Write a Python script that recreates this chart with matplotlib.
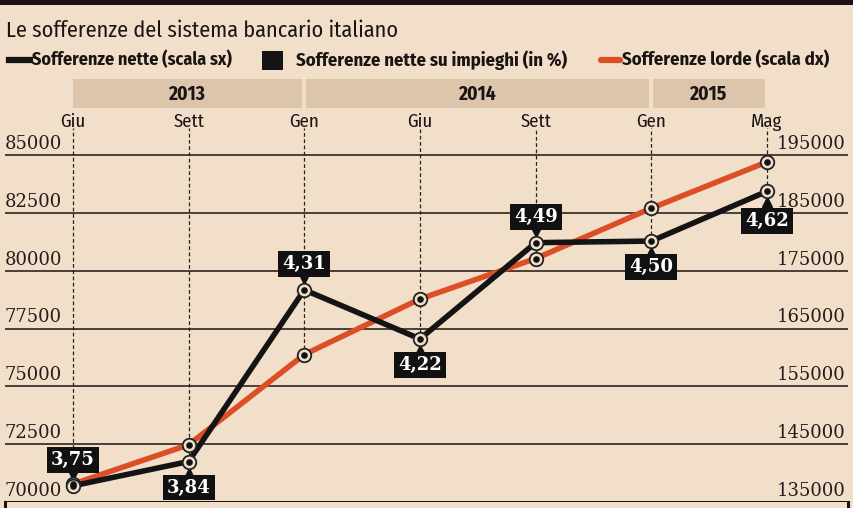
import matplotlib
matplotlib.use("Agg")
import matplotlib.pyplot as plt
from matplotlib.patches import Rectangle
from matplotlib.transforms import offset_copy

# data
months = ["Giu", "Sett", "Gen", "Giu", "Sett", "Gen", "Mag"]
years = ["2013", "2014", "2015"]
year_spans = [(0, 2), (2, 5), (5, 6)]  # month index ranges covered by each year band
nette = [70700, 71750, 79170, 77050, 81210, 81280, 83430]          # scala sx
lorde = [138100, 144900, 160500, 170100, 177100, 185800, 193800]   # scala dx
pct = ["3,75", "3,84", "4,31", "4,22", "4,49", "4,50", "4,62"]
pct_above = [True, False, True, False, True, False, False]
left_ticks = [70000, 72500, 75000, 77500, 80000, 82500, 85000]
right_ticks = [135000, 145000, 155000, 165000, 175000, 185000, 195000]

BG = "#f2dfca"
BAND = "#dcc5aa"
ORANGE = "#dc4f26"
GRID = "#3b3331"
COND = ["Fira Sans Condensed", "Barlow Condensed", "DejaVu Sans"]
SERIF = ["DejaVu Serif"]

W, H = 854, 508
fig = plt.figure(figsize=(W / 100, H / 100), dpi=100, facecolor=BG)


def fx(px):
    return px / W


def fy(py):
    return 1 - py / H


# axes: x index 0..6 at px 73..767, left scale 70000..85000 at px 502..155
ax = fig.add_axes([fx(5), fy(502), fx(843), 374 / H])
ax.set_facecolor("none")
step_x = (767 - 73) / 6
step_y = (502 - 155) / 6
ax.set_xlim(-(73 - 5) / step_x, 6 + (848 - 767) / step_x)
ax.set_ylim(70000, 70000 + 2500 * 374 / step_y)
for s in ax.spines.values():
    s.set_visible(False)
ax.set_xticks([])
ax.set_yticks([])


def to_left(v):
    return (v - 135000) / 4 + 70000


xs = list(range(len(months)))
lorde_l = [to_left(v) for v in lorde]

# gridlines
for t in left_ticks[1:]:
    ax.axhline(t, color=GRID, lw=1.3, zorder=1)
ax.axhline(70000, color="#1a1414", lw=2.2, zorder=1)
ax.plot([ax.get_xlim()[0]] * 2, [70000, 69000], color="#1a1414", lw=2.2, clip_on=False)
ax.plot([ax.get_xlim()[1]] * 2, [70000, 69000], color="#1a1414", lw=2.2, clip_on=False)

# dashed month guides
ytop = ax.get_ylim()[1]
for i in xs:
    ax.plot([i, i], [min(nette[i], lorde_l[i]), ytop], color="#222", lw=0.9,
            ls=(0, (3, 2)), zorder=2)

# lines
ax.plot(xs, lorde_l, color=ORANGE, lw=4, zorder=3, solid_capstyle="round")
ax.plot(xs, nette, color="#141414", lw=4, zorder=4, solid_capstyle="round")

# bullseye markers
for ys in (lorde_l, nette):
    ax.scatter(xs, ys, s=95, facecolor=BG, edgecolor="#222", linewidth=1.3, zorder=6)
    ax.scatter(xs, ys, s=14, color="#111", zorder=7)

# value boxes
for i in xs:
    up = pct_above[i]
    off = 26 if i < 6 else 30
    ax.annotate(pct[i], (i, nette[i]), xytext=(0, (off if up else -off) * 0.72),
                textcoords="offset points", ha="center", va="center",
                color="white", fontsize=13, family=SERIF, fontweight="bold",
                bbox=dict(boxstyle="square,pad=0.22", fc="#111", ec="none"), zorder=8)
    tr = offset_copy(ax.transData, fig=fig, x=0, y=(11 if up else -11), units="dots")
    ax.plot(i, nette[i], marker="v" if up else "^", ms=7, color="#111",
            transform=tr, zorder=5)

# axis labels, sitting above their gridlines
for lt, rt in zip(left_ticks, right_ticks):
    y_px = 502 - (lt - 70000) / 2500 * step_y
    fig.text(fx(62), fy(y_px - 11), str(lt), ha="right", va="center",
             fontsize=13, family=SERIF, color="#231c1c")
    fig.text(fx(846), fy(y_px - 11), str(rt), ha="right", va="center",
             fontsize=13, family=SERIF, color="#231c1c")

# month labels and year bands
for i, m in enumerate(months):
    fig.text(fx(73 + i * step_x), fy(122), m, ha="center", va="center",
             fontsize=13.5, family=COND, color="#1a1414")
for yr, (a, b) in zip(years, year_spans):
    x0 = 73 + a * step_x + (2 if a > 0 else 0)
    x1 = 73 + b * step_x - 2
    fig.patches.append(Rectangle((fx(x0), fy(108)), fx(x1 - x0), 29 / H,
                                 transform=fig.transFigure, fc=BAND, ec="none"))
    fig.text(fx((x0 + x1) / 2), fy(94), yr, ha="center", va="center",
             fontsize=14, family=COND, fontweight="bold", color="#1a1414")

# top bar, title, legend
fig.patches.append(Rectangle((0, fy(5)), 1, 5 / H, transform=fig.transFigure,
                             fc="#1a1414", ec="none"))
fig.text(fx(6), fy(31), "Le sofferenze del sistema bancario italiano", ha="left",
         va="center", fontsize=16, family=COND, color="#1a1414")
fig.lines.append(plt.Line2D([fx(9), fx(30)], [fy(60)] * 2, transform=fig.transFigure,
                            color="#141414", lw=4.5))
fig.text(fx(32), fy(60), "Sofferenze nette (scala sx)", ha="left", va="center",
         fontsize=13, family=COND, fontweight="bold", color="#1a1414")
fig.patches.append(Rectangle((fx(262), fy(70)), fx(21), 19 / H,
                             transform=fig.transFigure, fc="#141414", ec="none"))
fig.text(fx(296), fy(60), "Sofferenze nette su impieghi (in %)", ha="left",
         va="center", fontsize=13.4, family=COND, fontweight="bold", color="#1a1414")
fig.lines.append(plt.Line2D([fx(601), fx(620)], [fy(60)] * 2, transform=fig.transFigure,
                            color=ORANGE, lw=4.5, solid_capstyle="round"))
fig.text(fx(622), fy(60), "Sofferenze lorde (scala dx)", ha="left", va="center",
         fontsize=13.4, family=COND, fontweight="bold", color="#1a1414")

fig.savefig("out.png", dpi=100, facecolor=BG)
